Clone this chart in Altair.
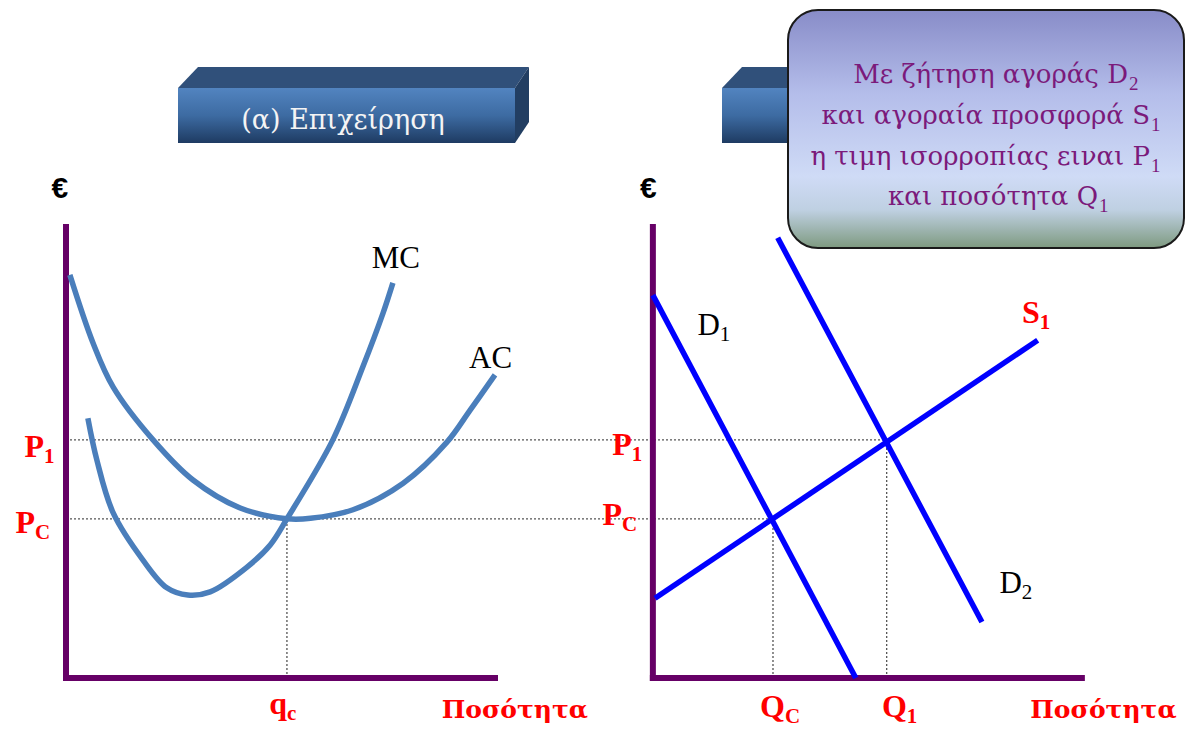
import altair as alt
import pandas as pd

# ---------------- data (chart units: each axis runs 0..100) ----------------
# (a) firm panel: quantity q, cost / price
AC_q = [0.9, 6.3, 11.0, 20.3, 29.6, 40.6, 51.5, 57.0, 66.9, 78.6, 88.8, 94.2, 100.0]
AC_p = [89.4, 74.3, 64.5, 52.8, 43.9, 37.7, 35.3, 35.4, 37.3, 43.2, 52.3, 59.4, 67.2]
MC_q = [5.1, 7.2, 11.0, 17.9, 23.5, 28.4, 33.6, 42.2, 47.6, 51.5, 62.2, 69.2, 73.9, 76.2]
MC_p = [57.6, 48.3, 36.6, 26.2, 20.0, 18.4, 19.1, 24.6, 29.5, 35.3, 52.8, 69.0, 80.9, 87.6]

# market panel: quantity Q, price
D1_Q, D1_P = [0.0, 47.3], [84.9, 0.0]
D2_Q, D2_P = [29.1, 76.7], [97.6, 12.4]
S1_Q, S1_P = [0.5, 89.7], [17.7, 74.9]

P1, PC = 52.8, 35.3          # price levels
qc = 51.5                    # firm quantity
QC, Q1 = 28.0, 54.5          # market quantities

CALLOUT_MAIN = ["Με ζήτηση αγοράς D", "και αγοραία προσφορά S",
                "η τιμη ισορροπίας ειναι P", "και ποσότητα Q"]
CALLOUT_SUB = ["2", "1", "1", "1"]
HEADER_LEFT = "(α) Επιχείρηση"

# ---------------- layout ----------------
SHIFT = 136.8   # horizontal offset of the market panel (chart units)
XS = alt.Scale(domain=[0, 100], range=[66, 495], nice=False, zero=False)
YS = alt.Scale(domain=[0, 100], range=[678, 227], nice=False, zero=False)
SERIF = "Liberation Serif"
GSERIF = "DejaVu Serif"
RED = "#FF0000"
PURPLE = "#660066"
TXT_PURPLE = "#7B1A7B"
CALLOUT_ANCHOR_X = [1128, 1150, 1150, 1098]
CALLOUT_Y = [75, 116, 157, 197]


def X(f="x"):
    return alt.X(f"{f}:Q", scale=XS, axis=None)


def Y(f="y"):
    return alt.Y(f"{f}:Q", scale=YS, axis=None)


one = pd.DataFrame({"a": [0]})

# curves table
rows = []
for name, qs, ps, panel in [("AC", AC_q, AC_p, "L"), ("MC", MC_q, MC_p, "L"),
                            ("D1", D1_Q, D1_P, "R"), ("D2", D2_Q, D2_P, "R"),
                            ("S1", S1_Q, S1_P, "R")]:
    for i, (q, p) in enumerate(zip(qs, ps)):
        rows.append({"curve": name, "i": i, "x": q + (SHIFT if panel == "R" else 0), "y": p, "panel": panel})
curves = pd.DataFrame(rows)

left_curves = alt.Chart(curves[curves.panel == "L"]).mark_line(
    color="#4A7EBB", strokeWidth=5.5, interpolate="catmull-rom"
).encode(x=X(), y=Y(), detail="curve:N", order="i:Q")

right_curves = alt.Chart(curves[curves.panel == "R"]).mark_line(
    color="#0000FF", strokeWidth=5.5
).encode(x=X(), y=Y(), detail="curve:N", order="i:Q")

# axes
axes = pd.DataFrame([
    {"x": 0, "x2": 0, "y": 0, "y2": 100},
    {"x": 0, "x2": 100, "y": 0, "y2": 0},
    {"x": SHIFT, "x2": SHIFT, "y": 0, "y2": 100},
    {"x": SHIFT, "x2": SHIFT + 100, "y": 0, "y2": 0},
])
axis_layer = alt.Chart(axes).mark_rule(color=PURPLE, strokeWidth=6, strokeCap="square").encode(
    x=X(), x2="x2:Q", y=Y(), y2="y2:Q")

# dotted guides
guides = pd.DataFrame([
    {"x": 0, "x2": SHIFT + Q1, "y": P1, "y2": P1},
    {"x": 0, "x2": SHIFT + QC, "y": PC, "y2": PC},
    {"x": qc, "x2": qc, "y": 0, "y2": PC},
    {"x": SHIFT + QC, "x2": SHIFT + QC, "y": 0, "y2": PC},
    {"x": SHIFT + Q1, "x2": SHIFT + Q1, "y": 0, "y2": P1},
])
guide_layer = alt.Chart(guides).mark_rule(color="#555555", strokeWidth=1.3, strokeDash=[2, 2]).encode(
    x=X(), x2="x2:Q", y=Y(), y2="y2:Q")

# labels: (main, sub, anchor x, baseline y, panel)
red_labels = [
    ("P", "1", -5.1, 49.0, "L"), ("P", "C", -7.2, 32.2, "L"), ("q", "c", 51.5, -8.0, "L"),
    ("P", "1", -4.9, 49.4, "R"), ("P", "C", -7.2, 33.9, "R"), ("Q", "C", 30.8, -8.6, "R"),
    ("Q", "1", 59.2, -8.6, "R"), ("S", "1", 90.2, 78.7, "R"),
]
axis_titles = [("Ποσότητα", "", 121.7, -8.9, "L"), ("Ποσότητα", "", 122.1, -8.9, "R")]
black_labels = [
    ("MC", "", 82.5, 90.9, "L"), ("AC", "", 104.0, 68.7, "L"),
    ("D", "1", 15.6, 76.1, "R"), ("D", "2", 86.0, 18.8, "R"),
]
euro_labels = [("€", "", 0.5, 106.5, "L"), ("€", "", 0.9, 106.5, "R")]


def lab_df(lst):
    return pd.DataFrame([{"main": m, "sub": s, "x": x + (SHIFT if p == "R" else 0), "y": y}
                         for m, s, x, y, p in lst])


def label_layers(lst, color, weight, size, subsize, font, subdy=6):
    d = lab_df(lst)
    main = alt.Chart(d).mark_text(align="right", baseline="alphabetic", color=color,
                                  fontWeight=weight, fontSize=size, font=font).encode(
        x=X(), y=Y(), text="main:N")
    sub = alt.Chart(d).mark_text(align="left", baseline="alphabetic", color=color, dy=subdy,
                                 fontWeight=weight, fontSize=subsize, font=font).encode(
        x=X(), y=Y(), text="sub:N")
    return [main, sub]


# decorative header boxes
def box(x0, x1, y0, y1):
    front = alt.Chart(one).mark_rect(
        fill=alt.LinearGradient(gradient="linear", x1=0, x2=0, y1=0, y2=1, stops=[
            alt.GradientStop(color="#5284C0", offset=0),
            alt.GradientStop(color="#3D6BA2", offset=0.5),
            alt.GradientStop(color="#1E3B62", offset=1)])
    ).encode(x=alt.value(x0), x2=alt.value(x1), y=alt.value(y0), y2=alt.value(y1))
    w = x1 - x0
    h = y1 - y0
    top = alt.Chart(one).mark_point(
        shape=f"M0,0 L20,-21 L{w + 14},-21 L{w},0 Z", size=4, filled=True,
        fill="#30507A", opacity=1, strokeWidth=0
    ).encode(x=alt.value(x0), y=alt.value(y0))
    side = alt.Chart(one).mark_point(
        shape=f"M0,0 L14,-21 L14,{h - 21} L0,{h} Z", size=4, filled=True,
        fill="#223E62", opacity=1, strokeWidth=0
    ).encode(x=alt.value(x1), y=alt.value(y0))
    return [top, side, front]


header_text = alt.Chart(one).mark_text(
    text=HEADER_LEFT, font=GSERIF, fontSize=27, color="#F4F4F4", align="center", baseline="middle"
).encode(x=alt.value(343), y=alt.value(121))

callout = alt.Chart(one).mark_rect(
    cornerRadius=30, stroke="#1A1A1A", strokeWidth=2,
    fill=alt.LinearGradient(gradient="linear", x1=0, x2=0, y1=0, y2=1, stops=[
        alt.GradientStop(color="#888CC8", offset=0),
        alt.GradientStop(color="#B4BDEA", offset=0.35),
        alt.GradientStop(color="#CFDBF6", offset=0.7),
        alt.GradientStop(color="#BFD0E2", offset=0.84),
        alt.GradientStop(color="#7E9A80", offset=1)])
).encode(x=alt.value(788), x2=alt.value(1184), y=alt.value(10), y2=alt.value(248))

callout_text = []
for t, s, ax, yy in zip(CALLOUT_MAIN, CALLOUT_SUB, CALLOUT_ANCHOR_X, CALLOUT_Y):
    callout_text.append(alt.Chart(one).mark_text(
        text=t, font=GSERIF, fontSize=26, color=TXT_PURPLE, align="right", baseline="middle"
    ).encode(x=alt.value(ax), y=alt.value(yy)))
    callout_text.append(alt.Chart(one).mark_text(
        text=s, font=SERIF, fontSize=19, color=TXT_PURPLE, align="left", baseline="middle"
    ).encode(x=alt.value(ax + 1), y=alt.value(yy + 9)))

layers = (box(178, 515, 88, 143) + [header_text] + box(722, 1059, 88, 143)
          + [callout] + callout_text
          + [guide_layer, axis_layer, left_curves, right_curves]
          + label_layers(red_labels, RED, "bold", 32, 21, SERIF)
          + label_layers(axis_titles, RED, "bold", 25, 21, GSERIF)
          + label_layers(black_labels, "black", "normal", 31, 21, SERIF)
          + label_layers(euro_labels, "black", "bold", 30, 12, "Liberation Sans"))

chart = alt.layer(*layers).properties(
    width=1195, height=730, padding=0, autosize="none", background="white"
).configure_view(stroke=None)

chart.save("out.html", embed_options={"renderer": "svg", "actions": False})
